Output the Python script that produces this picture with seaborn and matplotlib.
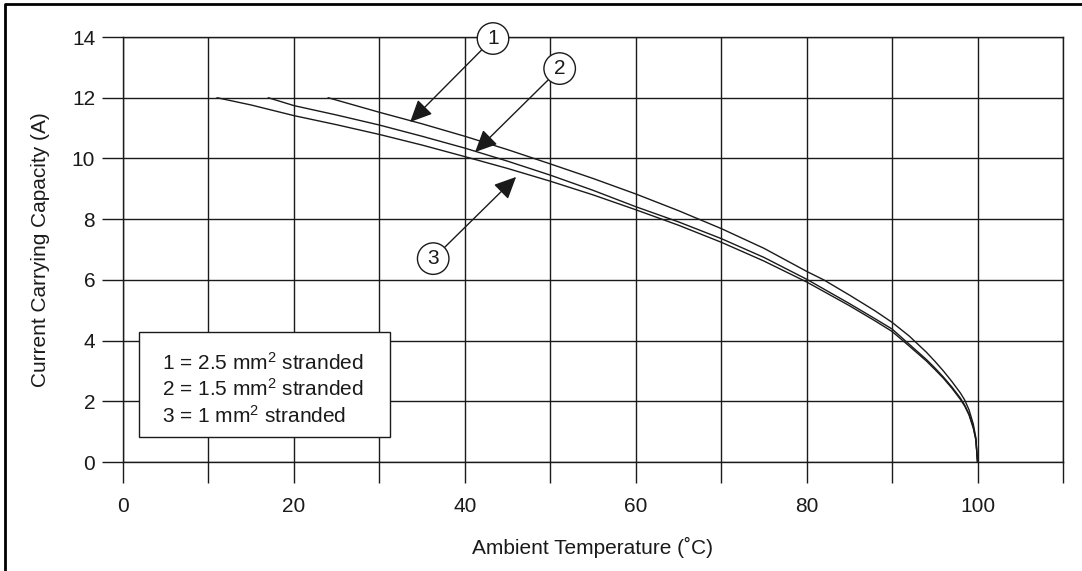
import numpy as np
import pandas as pd
import matplotlib
matplotlib.use("Agg")
import matplotlib.pyplot as plt
from matplotlib.lines import Line2D
from matplotlib.patches import Rectangle
import seaborn as sns

# readings (ambient temperature vs current)
temp_25 = [24, 30, 35, 40, 45, 50, 55, 60, 65, 70, 75, 80, 82, 85, 88, 90, 92, 94, 95,
           96, 97, 98, 98.5, 99, 99.5, 99.8, 100]
amps_25 = [12.0, 11.52, 11.14, 10.73, 10.29, 9.82, 9.34, 8.83, 8.28, 7.69, 7.04, 6.28,
           6.0, 5.5, 4.98, 4.6, 4.15, 3.62, 3.32, 3.0, 2.65, 2.27, 2.04, 1.72, 1.25,
           0.8, 0.0]

temp_15 = [17, 20, 25, 30, 35, 40, 45, 50, 55, 60, 65, 70, 75, 80, 85, 88, 90, 92, 94,
           95, 96, 97, 98, 98.5, 99, 99.5, 99.8, 100]
amps_15 = [12.0, 11.74, 11.43, 11.10, 10.73, 10.34, 9.91, 9.45, 8.95, 8.41, 7.91, 7.36,
           6.74, 6.02, 5.22, 4.72, 4.38, 3.88, 3.38, 3.1, 2.8, 2.47, 2.1, 1.87, 1.58,
           1.15, 0.75, 0.0]

temp_10 = [11, 15, 20, 25, 30, 35, 40, 45, 50, 55, 60, 65, 70, 75, 80, 85, 88, 90, 92,
           94, 95, 96, 97, 98, 98.5, 99, 99.5, 99.8, 100]
amps_10 = [12.0, 11.76, 11.41, 11.11, 10.79, 10.44, 10.06, 9.67, 9.25, 8.8, 8.31, 7.8,
           7.24, 6.62, 5.93, 5.15, 4.65, 4.30, 3.82, 3.33, 3.05, 2.76, 2.43, 2.06, 1.84,
           1.55, 1.12, 0.73, 0.0]

wire_ids = ["1", "2", "3"]
legend_lines = ["1 = 2.5 mm$\\mathregular{^2}$ stranded",
                "2 = 1.5 mm$\\mathregular{^2}$ stranded",
                "3 = 1 mm$\\mathregular{^2}$ stranded"]

x_ticks = list(range(0, 111, 10))
x_tick_labels = ["0", "", "20", "", "40", "", "60", "", "80", "", "100", ""]
y_ticks = list(range(0, 15, 2))

df = pd.concat([
    pd.DataFrame({"temp": temp_25, "amps": amps_25, "wire": wire_ids[0]}),
    pd.DataFrame({"temp": temp_15, "amps": amps_15, "wire": wire_ids[1]}),
    pd.DataFrame({"temp": temp_10, "amps": amps_10, "wire": wire_ids[2]}),
])

sns.set_style("white")
plt.rcParams["font.family"] = ["Liberation Sans", "DejaVu Sans"]
plt.rcParams["mathtext.fontset"] = "custom"
plt.rcParams["mathtext.rm"] = "Liberation Sans"

ink = "#1a1a1a"
fs = 15
fig = plt.figure(figsize=(10.82, 5.71), dpi=100)
ax = fig.add_axes([123 / 1082, 1 - 462 / 571, 940 / 1082, 425 / 571])

sns.lineplot(data=df, x="temp", y="amps", hue="wire", palette=[ink] * 3,
             legend=False, sort=False, linewidth=1.0, ax=ax, zorder=3)

ax.set_xlim(0, 110)
ax.set_ylim(0, 14)
ax.set_xticks(x_ticks)
ax.set_xticklabels(x_tick_labels)
ax.set_yticks(y_ticks)
ax.grid(True, color=ink, linewidth=1.0)
ax.set_axisbelow(True)
for sp in ax.spines.values():
    sp.set_color(ink)
    sp.set_linewidth(1.0)
ax.tick_params(axis="both", bottom=True, left=True, length=15, width=1.0, color=ink,
               labelsize=fs, labelcolor=ink)
ax.tick_params(axis="x", pad=10)
ax.tick_params(axis="y", pad=5)
ax.set_xlabel("Ambient Temperature (˚C)", fontsize=fs, color=ink, labelpad=15)
ax.set_ylabel("Current Carrying Capacity (A)", fontsize=fs, color=ink, labelpad=15.5)

# callouts
callouts = [("1", (33.6, 11.2), (43.3, 13.95)),
            ("2", (41.2, 10.21), (51.1, 12.96)),
            ("3", (46.0, 9.39), (36.3, 6.70))]
for label, tip, center in callouts:
    ax.annotate(label, xy=tip, xytext=center, ha="center", va="center",
                fontsize=fs, color=ink, zorder=5,
                bbox=dict(boxstyle="circle,pad=0.3", fc="white", ec=ink, lw=1.0),
                arrowprops=dict(arrowstyle="-|>,head_length=0.9,head_width=0.42",
                                mutation_scale=15, color=ink, lw=1.0,
                                shrinkA=0, shrinkB=0))

# key box
ax.add_patch(Rectangle((1.93, 0.82), 29.34, 3.47, fc="white", ec=ink, lw=1.0, zorder=4))
for i, line in enumerate(legend_lines):
    ax.text(4.62, 3.05 - i * 0.885, line, fontsize=fs, color=ink, va="baseline",
            ha="left", zorder=5)

# frame on the top and left edges of the figure
fig.add_artist(Line2D([5 / 1082, 5 / 1082, 1.0], [0.0, 1 - 4 / 571, 1 - 4 / 571],
                      color="black", linewidth=2.0, transform=fig.transFigure))

fig.savefig("out.png", dpi=100)
